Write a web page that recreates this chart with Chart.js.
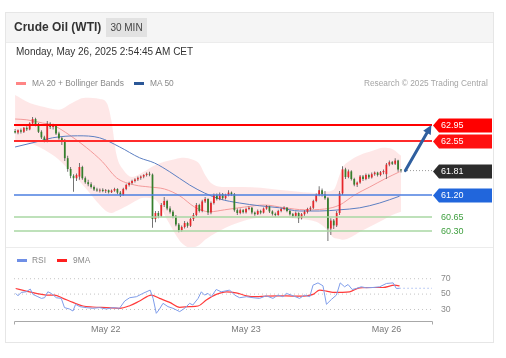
<!DOCTYPE html>
<html>
<head>
<meta charset="utf-8">
<script src="https://cdn.jsdelivr.net/npm/chart.js@4.4.1/dist/chart.umd.min.js"></script>
<style>
  html, body { margin: 0; padding: 0; background: #fff; }
  #root { position: relative; width: 506px; height: 358px; overflow: hidden; font-family: "Liberation Sans", Arial, sans-serif; }
  .abs { position: absolute; white-space: nowrap; }
  canvas { position: absolute; left: 0; }
</style>
</head>
<body>
<div id="root">
  <div class="abs" style="left:5px;top:12px;width:487px;height:329px;border:1px solid #e6e6e6;"></div>
  <div class="abs" style="left:6px;top:13px;width:487px;height:29px;background:#f5f5f5;border-bottom:1px solid #ececec;"></div>
  <div class="abs" style="left:6px;top:247px;width:487px;height:1px;background:#ececec;"></div>

  <canvas id="price" width="506" height="248" style="top:0;"></canvas>
  <canvas id="rsi" width="506" height="110" style="top:248px;"></canvas>

  <div class="abs" style="left:14px;top:20px;font-size:12px;line-height:14px;font-weight:bold;color:#333;">Crude Oil (WTI)</div>
  <div class="abs" style="left:106px;top:18px;width:41px;height:19px;line-height:19px;background:#e2e2e2;color:#444;font-size:10px;text-align:center;">30 MIN</div>
  <div class="abs" style="left:16px;top:46px;font-size:10px;line-height:12px;color:#333;">Monday, May 26, 2025 2:54:45 AM CET</div>

  <div class="abs" style="left:16px;top:82px;width:10px;height:3px;background:#ff8585;"></div>
  <div class="abs" style="left:32px;top:78px;font-size:8.4px;line-height:11px;color:#8a8a8a;">MA 20 + Bollinger Bands</div>
  <div class="abs" style="left:134px;top:82px;width:10px;height:3px;background:#2b5797;"></div>
  <div class="abs" style="left:150px;top:78px;font-size:8.4px;line-height:11px;color:#8a8a8a;">MA 50</div>
  <div class="abs" style="left:364px;top:78px;font-size:8.3px;line-height:11px;color:#a5a5a5;">Research © 2025 Trading Central</div>

  <div class="abs" style="left:17px;top:259px;width:10px;height:3px;background:#6f8fe6;"></div>
  <div class="abs" style="left:32px;top:255px;font-size:8.4px;line-height:11px;color:#8a8a8a;">RSI</div>
  <div class="abs" style="left:57px;top:259px;width:10px;height:3px;background:#ff2020;"></div>
  <div class="abs" style="left:73px;top:255px;font-size:8.4px;line-height:11px;color:#8a8a8a;">9MA</div>
</div>

<script>
// ---------------- DATA ----------------
const opens  = [62.80,62.76,62.82,62.78,62.88,62.84,62.99,63.10,62.95,62.78,62.64,62.56,62.98,62.90,62.95,62.74,62.62,62.56,62.12,61.85,
                61.68,61.62,61.66,61.90,61.62,61.52,61.47,61.40,61.34,61.31,61.33,61.30,61.32,61.27,61.31,61.35,61.26,61.20,61.35,61.45,
                61.50,61.55,61.59,61.63,61.66,61.70,61.73,61.71,60.60,60.75,60.68,60.95,61.05,60.86,60.78,60.66,60.46,60.32,60.40,60.50,
                60.43,60.60,60.70,60.95,60.80,61.04,61.10,60.76,61.00,61.20,61.10,61.22,61.12,61.20,61.26,61.22,60.82,60.75,60.82,60.77,
                60.85,60.88,60.76,60.72,60.80,60.76,60.86,60.91,60.79,60.73,60.70,60.80,60.85,60.88,60.80,60.72,60.68,60.75,60.62,60.72,
                60.78,60.85,60.88,61.05,61.20,61.32,61.22,61.12,60.36,60.56,60.44,60.75,61.24,61.84,61.65,61.79,61.60,61.46,61.51,61.66,
                61.60,61.70,61.64,61.72,61.76,61.70,61.77,61.72,61.96,62.02,61.98,62.06,61.84];
const highs  = [62.85,62.84,62.86,62.90,62.92,63.02,63.15,63.13,63.00,62.82,62.68,63.05,63.02,62.98,62.97,62.78,62.65,62.60,62.18,61.90,
                61.72,61.74,62.00,61.93,61.66,61.58,61.52,61.44,61.38,61.36,61.37,61.35,61.34,61.34,61.38,61.37,61.30,61.38,61.48,61.53,
                61.58,61.62,61.66,61.69,61.72,61.76,61.78,61.74,60.80,60.80,61.00,61.15,61.08,60.92,60.82,60.70,60.50,60.44,60.55,60.53,
                60.64,60.75,61.00,60.98,61.08,61.15,61.12,61.04,61.24,61.24,61.26,61.25,61.23,61.32,61.29,61.25,60.86,60.86,60.85,60.88,
                60.92,60.90,60.79,60.84,60.83,60.89,60.95,60.93,60.82,60.76,60.83,60.88,60.92,60.90,60.83,60.75,60.79,60.77,60.75,60.82,
                60.88,60.92,61.08,61.24,61.42,61.36,61.30,61.15,60.62,60.60,60.80,61.30,61.92,61.88,61.84,61.82,61.63,61.54,61.70,61.70,
                61.74,61.73,61.76,61.79,61.78,61.80,61.84,62.00,62.06,62.05,62.12,62.08,61.85];
const lows   = [62.74,62.72,62.74,62.75,62.80,62.82,62.96,62.92,62.75,62.60,62.52,62.52,62.85,62.84,62.70,62.58,62.45,62.05,61.78,61.62,
                61.28,61.55,61.58,61.58,61.48,61.42,61.36,61.30,61.28,61.26,61.27,61.25,61.24,61.25,61.28,61.22,61.15,61.18,61.32,61.41,
                61.46,61.51,61.55,61.58,61.62,61.66,61.67,60.38,60.52,60.62,60.65,60.90,60.82,60.74,60.62,60.42,60.27,60.28,60.36,60.38,
                60.40,60.55,60.66,60.76,60.77,61.00,60.70,60.72,60.96,61.06,61.07,61.08,61.09,61.17,61.18,60.78,60.70,60.72,60.74,60.74,
                60.82,60.72,60.68,60.70,60.72,60.74,60.83,60.75,60.69,60.66,60.68,60.77,60.82,60.77,60.69,60.64,60.65,60.50,60.59,60.68,
                60.74,60.80,60.85,61.02,61.17,61.16,61.08,60.05,60.20,60.35,60.40,60.70,61.20,61.60,61.62,61.56,61.42,61.40,61.48,61.55,
                61.57,61.60,61.61,61.68,61.66,61.67,61.72,61.60,61.92,61.95,61.95,61.78,61.76];
const closes = [62.76,62.82,62.78,62.88,62.84,62.99,63.10,62.95,62.78,62.64,62.56,62.98,62.90,62.95,62.74,62.62,62.56,62.12,61.85,61.68,
                61.62,61.70,61.90,61.62,61.52,61.47,61.40,61.34,61.31,61.33,61.30,61.32,61.27,61.31,61.35,61.26,61.20,61.35,61.45,61.50,
                61.55,61.59,61.63,61.66,61.70,61.73,61.71,60.60,60.75,60.68,60.95,61.05,60.86,60.78,60.66,60.46,60.32,60.40,60.50,60.43,
                60.60,60.70,60.95,60.80,61.04,61.10,60.76,61.00,61.20,61.10,61.22,61.12,61.20,61.26,61.22,60.82,60.75,60.82,60.77,60.85,
                60.88,60.76,60.72,60.80,60.76,60.86,60.91,60.79,60.73,60.70,60.80,60.85,60.88,60.80,60.72,60.68,60.75,60.62,60.72,60.78,
                60.85,60.88,61.05,61.20,61.32,61.22,61.12,60.36,60.56,60.44,60.75,61.24,61.84,61.65,61.79,61.60,61.46,61.51,61.66,61.60,
                61.70,61.64,61.72,61.76,61.70,61.77,61.80,61.96,62.02,61.98,62.06,61.84,61.81];

// Bollinger bands (sampled along the candle index)
const bandX     = [0,5,10,15,19,24,29,31.5,33,34.7,37,40,44,48,52,55,57,60,63,65,67,72,78,84,90,97,103,106,109,111,112,115,118,122,126,129,132];
const bandUpper = [63.70,63.50,63.40,63.33,63.48,63.63,63.60,63.48,63.03,62.20,61.83,61.65,61.78,61.95,62.05,62.10,62.13,62.10,61.98,61.70,61.50,61.40,61.40,61.38,61.33,61.28,61.25,61.28,61.33,61.70,61.88,62.08,62.20,62.30,62.38,62.35,62.18];
const bandLower = [62.58,62.50,62.33,62.08,61.78,61.38,60.95,60.78,60.75,60.80,60.88,61.00,61.13,61.08,60.58,60.20,60.00,59.88,59.95,60.08,60.18,60.38,60.55,60.63,60.63,60.60,60.53,60.38,60.13,60.10,60.08,60.15,60.28,60.43,60.58,60.70,60.78];

const ma20X = [0,4,9.4,12.8,18.6,24.5,29.9,34.7,40.9,46,51.1,56.3,61.4,66.5,71.7,78.5,85.3,92.2,99,105.9,111,116.1,121.3,126.4,131.5];
const ma20Y = [63.10,63.08,63.00,62.95,62.70,62.38,62.03,61.63,61.45,61.40,61.35,61.18,60.90,60.78,60.83,60.90,60.95,60.88,60.83,60.85,60.95,61.20,61.40,61.60,61.78];

const ma50X = [0,7.4,12.8,21.4,28.9,35.8,42.6,47.7,52.9,59.7,64.8,70,76.8,83.7,90.5,97.3,104.2,111,117.9,124.7,131.5];
const ma50Y = [62.40,62.53,62.63,62.68,62.63,62.40,62.13,62.00,61.78,61.45,61.25,61.10,61.00,60.93,60.88,60.80,60.80,60.83,60.88,61.00,61.17];

// Key levels on the right
const levelValues = [62.95, 62.55, 61.81, 61.20, 60.65, 60.30];
const levelLabels = ['62.95', '62.55', '61.81', '61.20', '60.65', '60.30'];
const lastCandleIndex = 132;

// Projection arrow (index, price)
const arrowX = [133.5, 142.4];
const arrowY = [61.81, 62.95];

// RSI panel
const rsiX = [0.2,1,2.1,3.8,5.2,6.1,7.8,9,10.1,11.2,12.4,14.1,15.8,16.9,18.6,19.8,20.7,22.1,24.3,26.6,28.9,31.2,33.5,35.7,37.5,39.2,41.5,43.7,46.2,47.2,
              48.3,49.2,50.6,52.3,54,56.3,58,59.7,60.8,62.6,63.7,64.8,66,67.1,68.8,70.5,73.4,75.1,76.8,79.1,81.4,83.6,85.9,88.2,89.9,91.6,92.8,95.1,97.3,99,
              100.8,101.9,103.6,105.3,106.5,108.2,109.9,111.2,112.7,113.9,115.3,116.7,118.4,120.1,122.4,124.7,127,129.3,130.4,131.5];
const rsiY = [50.9,47.8,52.2,53,56.5,49.6,46.6,44.4,45.3,53,50.9,45.3,44.4,32.4,30.6,28,36.7,33.7,32.4,31.5,32.4,30.6,32.4,31.5,41,45.3,46.6,50.9,55.2,44.4,
              25,29.4,38,33.7,31.5,27.2,31.5,38,35.8,44.4,53,48.7,50.9,46.6,56,53,55.2,48.7,45.3,46.6,45.3,44.4,47.8,44.4,48.7,46.6,50.9,47.8,44.4,48.7,
              46.6,61.6,64.6,60.8,36.7,43.1,48.7,64.6,59.5,62.5,56,57.3,59.5,58.2,58.6,59.5,63.8,64.6,57.3,57.6];
const ma9X = [0.2,3.8,7.2,10.7,13.5,16.4,19.8,23.2,26.6,31.2,35.7,39.2,42.6,46.6,49.4,52.9,56.3,59.7,62.6,65.4,68.8,72.2,75.6,79.1,82.5,85.9,90.5,95.1,99.6,101.9,104.2,106.5,108.7,114.4,117.9,122.4,125.8,129.8,131.5];
const ma9Y = [57.3,53.9,50.9,48.7,48.7,44.4,39.2,34.5,33.2,32.4,31.5,34.9,41,48.7,44.4,39.2,32.8,33.7,34.5,42.3,49.6,53,51.7,47.8,46.6,47.4,47.8,47.4,47.8,49.6,55.2,53.9,52.2,53,58.2,58.6,58.6,61.6,60.8];
const rsiLevels = [70, 50, 30];

// Time axis
const dateTicks  = [31, 79, 127];
const dateLabels = ['May 22', 'May 23', 'May 26'];

// ---------------- STYLE / LAYOUT ----------------
const X_MIN = -0.37, X_MAX = 142.6;
const FONT = '"Liberation Sans", Arial, sans-serif';
const UP = '#e5262a', DOWN = '#357f2c', WICK = '#5a5a5a';
const levelStyles = [
  { line: '#ff0000', width: 2,   box: '#ff0000', text: '#ffffff' },
  { line: '#ff2b2b', width: 2,   box: '#ff1010', text: '#ffffff' },
  { line: '#9a9a9a', width: 1,   box: '#2c2c2c', text: '#ffffff', dash: [1, 2], fromLast: true },
  { line: '#4d7fe0', width: 1.5, box: '#2166dc', text: '#ffffff' },
  { line: '#a9d7a3', width: 1.5, box: null,      text: '#3f9f3f' },
  { line: '#a9d7a3', width: 1.5, box: null,      text: '#3f9f3f' }
];

const pts = (xs, ys) => xs.map((x, i) => ({ x, y: ys[i] }));
const candleX = closes.map((_, i) => i);

// ---------------- PRICE CHART ----------------
const tagPlugin = {
  id: 'tags',
  afterDraw(chart) {
    const { ctx, chartArea, scales: { y } } = chart;
    levelValues.forEach((v, k) => {
      const st = levelStyles[k];
      const py = Math.round(y.getPixelForValue(v)) + 0.5;
      const x0 = chartArea.right + 1;
      ctx.save();
      if (st.box) {
        ctx.fillStyle = st.box;
        ctx.beginPath();
        ctx.moveTo(x0, py);
        ctx.lineTo(x0 + 6, py - 7);
        ctx.lineTo(492, py - 7);
        ctx.lineTo(492, py + 7);
        ctx.lineTo(x0 + 6, py + 7);
        ctx.closePath();
        ctx.fill();
      }
      ctx.fillStyle = st.text;
      ctx.font = '9px ' + FONT;
      ctx.textBaseline = 'middle';
      ctx.textAlign = 'left';
      ctx.fillText(levelLabels[k], 441, py + 0.5);
      ctx.restore();
    });
  }
};

const arrowPlugin = {
  id: 'arrow',
  afterDraw(chart) {
    const { ctx, scales: { x, y } } = chart;
    const x1 = x.getPixelForValue(arrowX[0]), y1 = y.getPixelForValue(arrowY[0]);
    const x2 = x.getPixelForValue(arrowX[1]), y2 = y.getPixelForValue(arrowY[1]);
    const ang = Math.atan2(y2 - y1, x2 - x1);
    const head = 10;
    ctx.save();
    ctx.strokeStyle = '#2f5f9f';
    ctx.fillStyle = '#2f5f9f';
    ctx.lineWidth = 3;
    ctx.lineCap = 'round';
    ctx.beginPath();
    ctx.moveTo(x1, y1);
    ctx.lineTo(x2 - head * 0.8 * Math.cos(ang), y2 - head * 0.8 * Math.sin(ang));
    ctx.stroke();
    ctx.beginPath();
    ctx.moveTo(x2, y2);
    ctx.lineTo(x2 - head * Math.cos(ang - 0.45), y2 - head * Math.sin(ang - 0.45));
    ctx.lineTo(x2 - head * Math.cos(ang + 0.45), y2 - head * Math.sin(ang + 0.45));
    ctx.closePath();
    ctx.fill();
    ctx.restore();
  }
};

const lineDs = (data, color, width, order, extra) => Object.assign({
  type: 'line', data, borderColor: color, borderWidth: width, pointRadius: 0,
  fill: false, tension: 0, order
}, extra || {});

const levelDatasets = levelValues.map((v, k) => {
  const st = levelStyles[k];
  const x0 = st.fromLast ? lastCandleIndex : X_MIN;
  return lineDs([{ x: x0, y: v }, { x: X_MAX, y: v }], st.line, st.width, 1,
                { borderDash: st.dash || [], borderCapStyle: 'butt' });
});

new Chart(document.getElementById('price'), {
  type: 'bar',
  data: {
    datasets: [
      lineDs(pts(bandX, bandUpper), 'rgba(0,0,0,0)', 0, 20,
             { fill: '+1', backgroundColor: 'rgba(250,160,160,0.25)', tension: 0.4, cubicInterpolationMode: 'monotone' }),
      lineDs(pts(bandX, bandLower), 'rgba(0,0,0,0)', 0, 20,
             { tension: 0.4, cubicInterpolationMode: 'monotone' }),
      lineDs(pts(ma50X, ma50Y), '#5c7fc2', 1, 10, { tension: 0.4, cubicInterpolationMode: 'monotone' }),
      lineDs(pts(ma20X, ma20Y), '#f39a9a', 1, 10, { tension: 0.4, cubicInterpolationMode: 'monotone' }),
      {
        type: 'bar', order: 4, grouped: false,
        data: candleX.map(i => ({ x: i, y: [lows[i], highs[i]] })),
        backgroundColor: WICK, borderWidth: 0,
        barPercentage: 0.36, maxBarThickness: 1
      },
      {
        type: 'bar', order: 3, grouped: false,
        data: candleX.map(i => ({ x: i, y: [opens[i], closes[i]] })),
        backgroundColor: ctx => {
          const i = ctx.dataIndex;
          return closes[i] >= opens[i] ? UP : DOWN;
        },
        borderWidth: 0,
        barPercentage: 0.75, maxBarThickness: 2.2
      },
      ...levelDatasets
    ]
  },
  options: {
    responsive: false,
    animation: false,
    events: [],
    layout: { padding: { left: 14, right: 74, top: 95, bottom: 1 } },
    plugins: { legend: { display: false }, tooltip: { enabled: false } },
    scales: {
      x: { type: 'linear', display: false, min: X_MIN, max: X_MAX, offset: false },
      y: { type: 'linear', display: false, min: 59.9, max: 63.7 }
    }
  },
  plugins: [arrowPlugin, tagPlugin]
});

// ---------------- RSI CHART ----------------
const bracketPlugin = {
  id: 'bracket',
  afterDraw(chart) {
    const { ctx, chartArea } = chart;
    const yb = Math.round(chartArea.bottom) + 0.5;
    const l = Math.round(chartArea.left) + 0.5, r = Math.round(chartArea.right) + 0.5;
    ctx.save();
    ctx.strokeStyle = '#a8a8a8';
    ctx.lineWidth = 1;
    ctx.beginPath();
    ctx.moveTo(l, yb + 3);
    ctx.lineTo(l, yb);
    ctx.lineTo(r, yb);
    ctx.lineTo(r, yb + 3);
    ctx.stroke();
    ctx.restore();
  }
};

new Chart(document.getElementById('rsi'), {
  type: 'line',
  data: {
    datasets: [
      ...rsiLevels.map(v => lineDs([{ x: X_MIN, y: v }, { x: X_MAX, y: v }], '#c4c4c4', 1, 5, { borderDash: [1, 3] })),
      lineDs(pts(ma9X, ma9Y), '#ff3b3b', 1.2, 2, { tension: 0.3, cubicInterpolationMode: 'monotone' }),
      lineDs(pts(rsiX, rsiY), '#7f9dea', 1, 1),
      lineDs([{ x: rsiX[rsiX.length - 1], y: rsiY[rsiY.length - 1] }, { x: X_MAX, y: rsiY[rsiY.length - 1] }],
             '#7f9dea', 1, 1, { borderDash: [1, 3] })
    ]
  },
  options: {
    responsive: false,
    animation: false,
    events: [],
    layout: { padding: { left: 14, right: 44, top: 22.5, bottom: 12 } },
    plugins: { legend: { display: false }, tooltip: { enabled: false } },
    scales: {
      x: {
        type: 'linear', min: X_MIN, max: X_MAX, offset: false,
        grid: { display: false, drawTicks: false }, border: { display: false },
        afterBuildTicks: s => { s.ticks = dateTicks.map(v => ({ value: v })); },
        afterFit: s => { s.height = 25; },
        ticks: {
          autoSkip: false, maxRotation: 0, padding: 3, color: '#7a7a7a',
          font: { family: FONT, size: 9 },
          callback: (v, i) => dateLabels[i]
        }
      },
      y: {
        type: 'linear', position: 'right', min: 15, max: 80.7,
        grid: { display: false, drawTicks: false }, border: { display: false },
        afterBuildTicks: s => { s.ticks = rsiLevels.map(v => ({ value: v })); },
        afterFit: s => { s.width = 30; },
        ticks: { padding: 9, color: '#8a8a8a', font: { family: FONT, size: 8.7 } }
      }
    }
  },
  plugins: [bracketPlugin]
});
</script>
</body>
</html>
